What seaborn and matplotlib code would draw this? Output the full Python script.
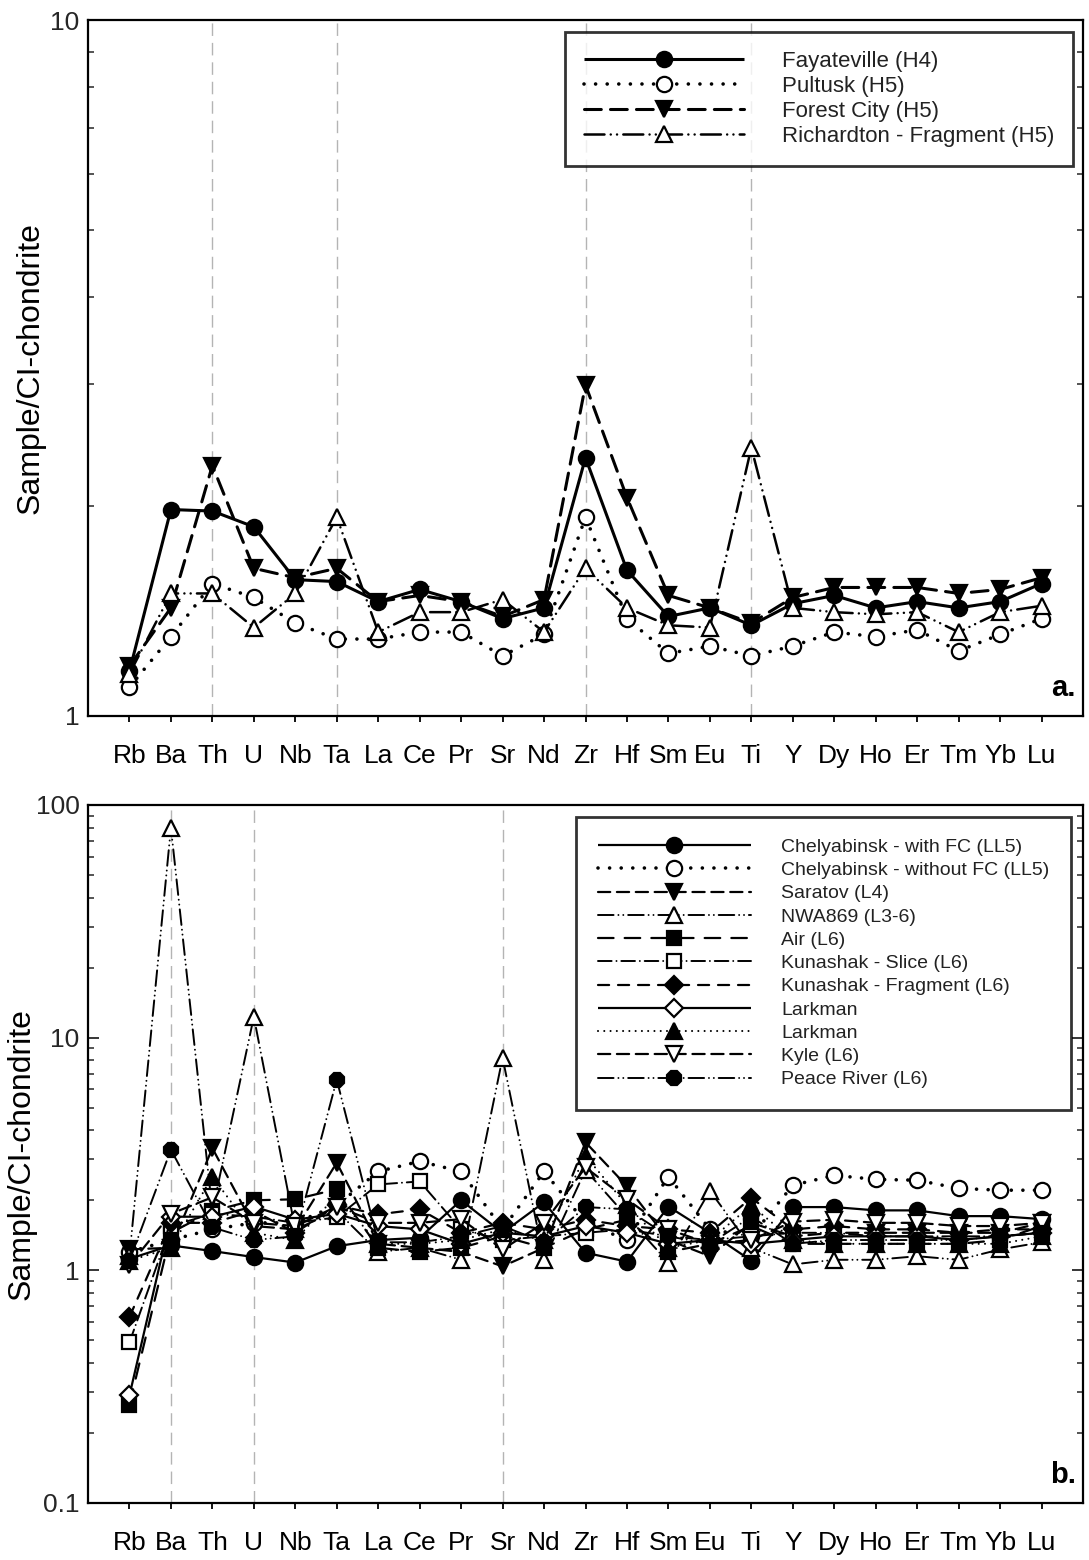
import numpy as np
import pandas as pd
import matplotlib
matplotlib.use("Agg")
import matplotlib.pyplot as plt
from matplotlib.ticker import FixedLocator, LogLocator, NullFormatter, FixedFormatter
import seaborn as sns

# ---------------------------------------------------------------- data
elements = ["Rb", "Ba", "Th", "U", "Nb", "Ta", "La", "Ce", "Pr", "Sr", "Nd", "Zr",
            "Hf", "Sm", "Eu", "Ti", "Y", "Dy", "Ho", "Er", "Tm", "Yb", "Lu"]

# panel a: H chondrites
fayateville = [1.16, 1.98, 1.97, 1.87, 1.57, 1.56, 1.46, 1.52, 1.46, 1.38, 1.43, 2.35,
               1.62, 1.39, 1.43, 1.35, 1.45, 1.49, 1.43, 1.46, 1.43, 1.46, 1.55]
pultusk = [1.10, 1.30, 1.55, 1.48, 1.36, 1.29, 1.29, 1.32, 1.32, 1.22, 1.31, 1.93,
           1.38, 1.23, 1.26, 1.22, 1.26, 1.32, 1.30, 1.33, 1.24, 1.31, 1.38]
forest_city = [1.18, 1.43, 2.29, 1.63, 1.58, 1.63, 1.46, 1.49, 1.46, 1.39, 1.47, 2.99,
               2.06, 1.49, 1.43, 1.36, 1.48, 1.53, 1.53, 1.53, 1.50, 1.52, 1.58]
richardton = [1.15, 1.50, 1.50, 1.34, 1.50, 1.93, 1.32, 1.41, 1.41, 1.47, 1.32, 1.63,
              1.43, 1.35, 1.34, 2.43, 1.43, 1.41, 1.40, 1.41, 1.32, 1.41, 1.44]

# panel b: L and LL chondrites
chely_fc = [1.12, 1.28, 1.21, 1.14, 1.08, 1.27, 1.35, 1.38, 2.00, 1.45, 1.96, 1.19,
            1.09, 1.88, 1.45, 1.10, 1.87, 1.87, 1.81, 1.81, 1.71, 1.71, 1.66]
chely_nofc = [1.20, 1.35, 1.50, 1.60, 1.60, 1.90, 2.66, 2.94, 2.66, 1.50, 2.66, 1.60,
              1.35, 2.53, 1.50, 1.40, 2.32, 2.56, 2.46, 2.44, 2.25, 2.21, 2.21]
saratov = [1.23, 1.25, 3.35, 1.55, 1.50, 2.90, 1.30, 1.25, 1.20, 1.04, 1.25, 3.55,
           2.30, 1.35, 1.15, 1.60, 1.40, 1.45, 1.45, 1.45, 1.45, 1.45, 1.60]
nwa869 = [1.15, 80.0, 1.80, 12.3, 1.50, 1.80, 1.20, 1.25, 1.11, 8.20, 1.11, 2.70,
          1.70, 1.08, 2.20, 1.25, 1.06, 1.11, 1.11, 1.15, 1.11, 1.23, 1.32]
air = [0.265, 1.45, 1.80, 2.00, 2.02, 2.23, 1.25, 1.20, 1.25, 1.40, 1.25, 1.50,
       1.65, 1.20, 1.30, 1.55, 1.30, 1.30, 1.30, 1.30, 1.30, 1.35, 1.55]
kunashak_slice = [0.49, 1.55, 1.75, 1.70, 1.60, 1.69, 2.34, 2.41, 1.50, 1.35, 1.40, 1.45,
                  1.50, 1.40, 1.35, 1.40, 1.45, 1.45, 1.40, 1.40, 1.40, 1.40, 1.45]
kunashak_frag = [0.63, 1.60, 1.60, 1.80, 1.45, 1.90, 1.74, 1.83, 1.45, 1.60, 1.50, 1.65,
                 1.55, 1.50, 1.45, 2.05, 1.50, 1.55, 1.50, 1.50, 1.45, 1.50, 1.50]
larkman_a = [0.29, 1.70, 1.70, 1.88, 1.65, 1.75, 1.55, 1.50, 1.30, 1.45, 1.40, 1.55,
             1.45, 1.30, 1.35, 1.30, 1.35, 1.40, 1.40, 1.40, 1.35, 1.40, 1.45]
larkman_b = [1.10, 1.25, 2.53, 1.45, 1.35, 2.10, 1.30, 1.30, 1.35, 1.50, 1.35, 3.10,
             1.90, 1.25, 1.35, 1.90, 1.35, 1.30, 1.30, 1.30, 1.30, 1.30, 1.40]
kyle = [1.05, 1.75, 2.06, 1.60, 1.55, 1.88, 1.60, 1.60, 1.66, 1.23, 1.60, 2.77,
        2.02, 1.50, 1.30, 1.35, 1.62, 1.65, 1.60, 1.60, 1.55, 1.55, 1.60]
peace_river = [1.10, 3.30, 1.53, 1.35, 1.40, 6.60, 1.32, 1.32, 1.40, 1.55, 1.32, 1.87,
               1.83, 1.40, 1.30, 1.70, 1.30, 1.35, 1.35, 1.35, 1.35, 1.40, 1.45]

# --------------------------------------------------------------- styles
DOT = (0, (0.01, 3.2))
FINE_DOT = (0, (0.01, 3.0))
DASH = (0, (5.5, 3.0))
DASH_DOT_DOT = (0, (8, 2.5, 0.01, 2.5, 0.01, 2.5))
LONG_GAP_DASH = (0, (7, 5))
DASH_DOT = (0, (7, 2.5, 0.01, 2.5))
SHORT_DASH = (0, (5, 4))

series_a = [
    ("Fayateville (H4)", fayateville, "o", "black", "-", 2.2, 11),
    ("Pultusk (H5)", pultusk, "o", "white", DOT, 2.6, 11),
    ("Forest City (H5)", forest_city, "v", "black", DASH, 2.2, 11),
    ("Richardton - Fragment (H5)", richardton, "^", "white", DASH_DOT_DOT, 1.8, 11),
]
series_b = [
    ("Chelyabinsk - with FC (LL5)", chely_fc, "o", "black", "-", 1.6, 11),
    ("Chelyabinsk - without FC (LL5)", chely_nofc, "o", "white", DOT, 2.6, 11),
    ("Saratov (L4)", saratov, "v", "black", DASH, 1.6, 11),
    ("NWA869 (L3-6)", nwa869, "^", "white", DASH_DOT_DOT, 1.4, 11),
    ("Air (L6)", air, "s", "black", LONG_GAP_DASH, 1.6, 10),
    ("Kunashak - Slice (L6)", kunashak_slice, "s", "white", DASH_DOT, 1.4, 10),
    ("Kunashak - Fragment (L6)", kunashak_frag, "D", "black", SHORT_DASH, 1.6, 9),
    ("Larkman", larkman_a, "D", "white", "-", 1.6, 9),
    ("Larkman", larkman_b, "^", "black", FINE_DOT, 1.5, 11),
    ("Kyle (L6)", kyle, "v", "white", DASH, 1.6, 11),
    ("Peace River (L6)", peace_river, "8", "black", DASH_DOT_DOT, 1.4, 11),
]

# ---------------------------------------------------------------- theme
sns.set_theme(style="ticks")
plt.rcParams["font.family"] = ["Liberation Sans", "DejaVu Sans"]
plt.rcParams["lines.solid_capstyle"] = "butt"

W, H = 1089, 1560
fig = plt.figure(figsize=(W / 100, H / 100), dpi=100)
left, right = 88, 1083
ax_a = fig.add_axes([left / W, 1 - 716 / H, (right - left) / W, (716 - 20) / H])
ax_b = fig.add_axes([left / W, 1 - 1503 / H, (right - left) / W, (1503 - 805) / H])

x = np.arange(len(elements))


def draw(ax, series, guides, ylim, yticks, ylabels, leg_fs, leg_handle, leg_gap,
         leg_space, leg_pad, leg_anchor, label_x, letter):
    ax.set_yscale("log")
    for gx in guides:
        ax.axvline(gx, color="#b4b4b4", lw=1.0, ls=(0, (9, 5)), zorder=0)
    for name, vals, mk, fc, ls, lw, ms in series:
        df = pd.DataFrame({"pos": x, "val": vals})
        sns.lineplot(data=df, x="pos", y="val", ax=ax, sort=False,
                     color="black", linestyle=ls, linewidth=lw,
                     dash_capstyle="round",
                     marker=mk, markersize=ms, markerfacecolor=fc,
                     markeredgecolor="black", markeredgewidth=1.6,
                     label=name)
    ax.set_xlim(-1, 23)
    ax.set_ylim(*ylim)
    ax.set_xticks(x)
    ax.set_xticklabels(elements)
    ax.yaxis.set_major_locator(FixedLocator(yticks))
    ax.yaxis.set_major_formatter(FixedFormatter(ylabels))
    ax.yaxis.set_minor_locator(LogLocator(base=10, subs=np.arange(2, 10)))
    ax.yaxis.set_minor_formatter(NullFormatter())
    ax.tick_params(axis="x", direction="out", length=4, width=1.3, pad=16,
                   labelsize=19, colors="black")
    ax.tick_params(axis="y", which="major", direction="in", length=8, width=1.3,
                   pad=6, labelsize=19, left=True, right=True)
    ax.tick_params(axis="y", which="minor", direction="in", length=4.5, width=1.1,
                   left=True, right=True)
    for sp in ax.spines.values():
        sp.set_visible(True)
        sp.set_linewidth(1.6)
        sp.set_color("black")
    ax.set_xlabel("")
    ax.set_ylabel("Sample/CI-chondrite", fontsize=23, color="black")
    ax.yaxis.set_label_coords(label_x, 0.5)
    leg = ax.legend(loc="upper right", bbox_to_anchor=leg_anchor,
                    borderaxespad=0, numpoints=1, handlelength=leg_handle,
                    handletextpad=leg_gap, labelspacing=leg_space,
                    borderpad=leg_pad, fontsize=leg_fs, frameon=True,
                    fancybox=False, edgecolor="black")
    leg.get_frame().set_linewidth(2.0)
    for t in leg.get_texts():
        t.set_color("#222222")
    ax.text(0.993, 0.02, letter, transform=ax.transAxes, ha="right", va="bottom",
            fontsize=21, fontweight="bold", color="black")


draw(ax_a, series_a, [2, 5, 11, 15], (1, 10), [1, 10], ["1", "10"],
     16, 7.2, 1.7, 0.18, 0.85, (0.990, 0.983), -0.043, "a.")
draw(ax_b, series_b, [1, 3, 9], (0.1, 100), [0.1, 1, 10, 100],
     ["0.1", "1", "10", "100"], 14, 7.9, 1.55, 0.29, 1.1, (0.988, 0.983), -0.052, "b.")

fig.savefig("out.png", dpi=100, facecolor="white")
